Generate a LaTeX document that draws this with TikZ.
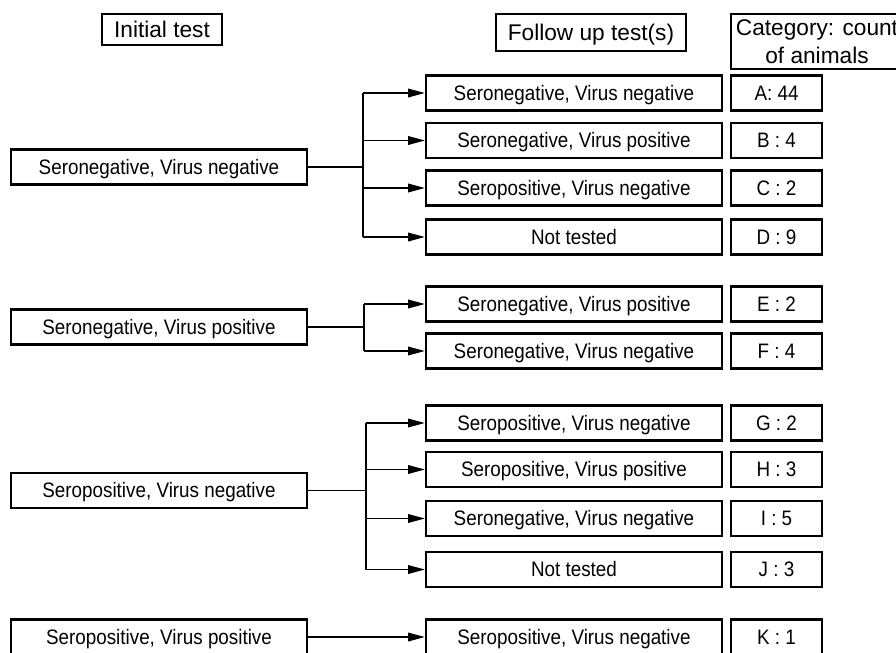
\documentclass[tikz,border=0pt]{standalone}
\usepackage{fontspec}
\setmainfont{Liberation Sans}
\newfontfamily\rowfont[FakeStretch=0.9]{Liberation Sans}
\usetikzlibrary{arrows.meta}

\tikzset{
  headbox/.style={draw, line width=1.6pt, inner sep=0pt, font=\fontsize{17}{21}\selectfont},
  testbox/.style={draw, line width=1.8pt, inner sep=0pt, minimum width=222pt, minimum height=26.5pt,
    text height=11.2pt, text depth=0pt, font=\rowfont\fontsize{15.7}{18}\selectfont},
  catbox/.style={testbox, minimum width=68.25pt},
  wire/.style={line width=0.9pt},
  feed/.style={wire, -{Triangle[length=12.5pt,width=6.5pt]}}
}

\begin{document}
\begin{tikzpicture}[x=0.75pt,y=0.75pt,yscale=-1,xscale=1]
\useasboundingbox (0,0) rectangle (896,653);
% Column headers
\node[headbox, minimum width=90pt, minimum height=23.25pt, text height=12.2pt, text depth=0pt] (hInit) at (162,29.5) {Initial test};
\node[headbox, minimum width=142.5pt, minimum height=27.75pt, text height=12.2pt, text depth=0pt] (hFollow) at (591,32.5) {Follow up test(s)};
\node[headbox, minimum width=129pt, minimum height=41.25pt, align=center] (hCat) at (817,41.5) {Category: count\\of animals};
% Initial test results
\node[testbox] (sNvN) at (159,167) {Seronegative, Virus negative};
\node[testbox] (sNvP) at (159,327) {Seronegative, Virus positive};
\node[testbox] (sPvN) at (159,490.5) {Seropositive, Virus negative};
\node[testbox] (sPvP) at (159,637) {Seropositive, Virus positive};
% Follow up results and counts
\foreach \nm/\yy/\txt/\cnt in {
    a/93/{Seronegative, Virus negative}/{A: 44},
    b/140.5/{Seronegative, Virus positive}/{B : 4},
    c/188/{Seropositive, Virus negative}/{C : 2},
    d/237/{Not tested}/{D : 9},
    e/304/{Seronegative, Virus positive}/{E : 2},
    f/351/{Seronegative, Virus negative}/{F : 4},
    g/423/{Seropositive, Virus negative}/{G : 2},
    h/469.5/{Seropositive, Virus positive}/{H : 3},
    i/518.5/{Seronegative, Virus negative}/{I : 5},
    j/569.5/{Not tested}/{J : 3},
    k/637/{Seropositive, Virus negative}/{K : 1}}{
  \node[testbox] (fu-\nm) at (574,\yy) {\txt};
  \node[catbox] (cat-\nm) at (776.5,\yy) {\cnt};
}
% Branch points
\coordinate (j1) at (363,167);
\coordinate (j2) at (364,327);
\coordinate (j3) at (366,491);
% Group 1
\draw[wire] (sNvN.east) -- (sNvN.east -| j1);
\draw[wire] (j1 |- fu-a) -- (j1 |- fu-d);
\foreach \nm in {a,b,c,d}
  \draw[feed] (j1 |- fu-\nm) -- (fu-\nm.west);
% Group 2
\draw[wire] (sNvP.east) -- (sNvP.east -| j2);
\draw[wire] (j2 |- fu-e) -- (j2 |- fu-f);
\foreach \nm in {e,f}
  \draw[feed] (j2 |- fu-\nm) -- (fu-\nm.west);
% Group 3
\draw[wire] (sPvN.east) -- (sPvN.east -| j3);
\draw[wire] (j3 |- fu-g) -- (j3 |- fu-j);
\foreach \nm in {g,h,i,j}
  \draw[feed] (j3 |- fu-\nm) -- (fu-\nm.west);
% Group 4
\draw[feed] (sPvP.east) -- (fu-k.west);
\end{tikzpicture}
\end{document}
